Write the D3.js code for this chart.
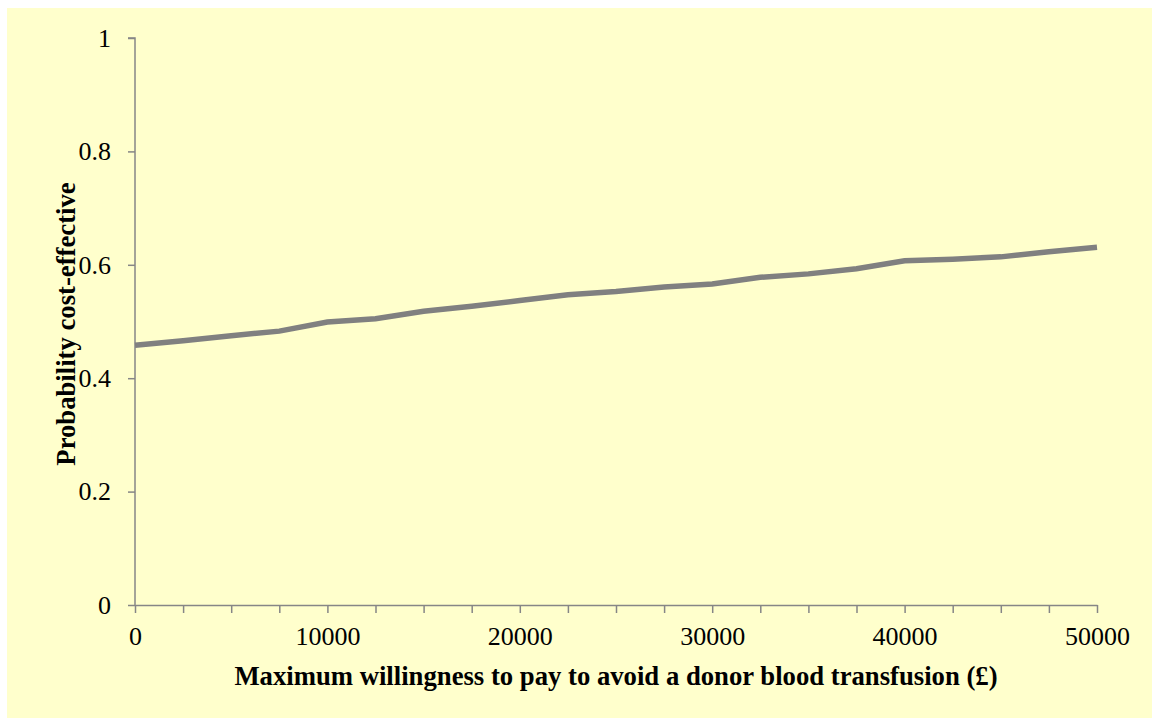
<!DOCTYPE html>
<meta charset="utf-8">
<style>
body { margin: 0; background: #fff; }
text { font-family: "Liberation Serif", "Times New Roman", serif; fill: #000; }
.axis path, .axis line { stroke: #868686; stroke-width: 1.5; }
.axis text { font-size: 26px; }
.title { font-size: 26.7px; font-weight: bold; }
</style>
<svg width="1152" height="718"></svg>
<script src="https://cdn.jsdelivr.net/npm/d3@7/dist/d3.min.js"></script>
<script>

// willingness to pay (GBP)
var wtp = [0, 2500, 5000, 7500, 10000, 12500, 15000, 17500, 20000, 22500, 25000,
           27500, 30000, 32500, 35000, 37500, 40000, 42500, 45000, 47500, 50000];
// probability cost-effective
var prob = [0.458, 0.466, 0.475, 0.483, 0.499, 0.505, 0.518, 0.527, 0.537, 0.547, 0.553,
            0.561, 0.566, 0.578, 0.584, 0.593, 0.607, 0.610, 0.614, 0.623, 0.631];
var xTicks = [0, 10000, 20000, 30000, 40000, 50000];
var xMinor = d3.range(0, 50001, 2500);
var yTicks = [0, 0.2, 0.4, 0.6, 0.8, 1];

var svg = d3.select("svg");

svg.append("rect")
    .attr("x", 7).attr("y", 8)
    .attr("width", 1145).attr("height", 710)
    .attr("fill", "#ffffcc");

var x = d3.scaleLinear().domain([0, 50000]).range([135, 1097]);
var y = d3.scaleLinear().domain([0, 1]).range([605, 38]);

// y axis
var yAxis = svg.append("g")
    .attr("class", "axis")
    .attr("transform", "translate(135,0)")
    .call(d3.axisLeft(y).tickValues(yTicks).tickSize(7).tickPadding(17)
        .tickFormat(function(d) { return d3.format("")(+d.toFixed(1)); }));
yAxis.select(".domain").attr("d", "M-7," + y(1) + "H0V" + y(0));

// x axis, minor ticks every 2500
var xAxis = svg.append("g")
    .attr("class", "axis")
    .attr("transform", "translate(0,605)")
    .call(d3.axisBottom(x).tickValues(xMinor).tickSize(8).tickSizeOuter(0)
        .tickFormat(function(d) { return xTicks.indexOf(d) >= 0 ? d : ""; }));
xAxis.selectAll("text").attr("dy", "1.12em");

var line = d3.line()
    .x(function(d, i) { return x(wtp[i]); })
    .y(function(d) { return y(d); });

svg.append("path")
    .datum(prob)
    .attr("fill", "none")
    .attr("stroke", "#808080")
    .attr("stroke-width", 5.5)
    .attr("d", line);

svg.append("text")
    .attr("class", "title")
    .attr("x", 616).attr("y", 685)
    .attr("text-anchor", "middle")
    .text("Maximum willingness to pay to avoid a donor blood transfusion (£)");

svg.append("text")
    .attr("class", "title")
    .attr("transform", "translate(75,324) rotate(-90)")
    .attr("text-anchor", "middle")
    .text("Probability cost-effective");

</script>
